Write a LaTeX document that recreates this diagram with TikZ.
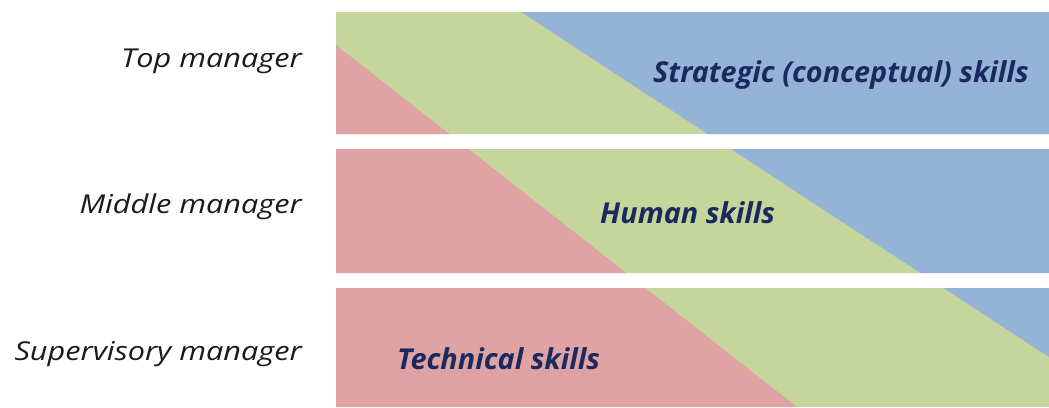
\documentclass[tikz,border=0pt]{standalone}
\usepackage{fontspec}
\setmainfont{Open Sans}
\newfontfamily\mgrfont[FakeStretch=1.18]{Open Sans}
\definecolor{bandred}{HTML}{DFA3A3}
\definecolor{bandgreen}{HTML}{C4D69B}
\definecolor{bandblue}{HTML}{95B3D7}
\definecolor{skillnavy}{HTML}{1B2A5E}
\definecolor{mgrtext}{HTML}{1A1A1A}
\tikzset{
  mgrlabel/.style={anchor=base east, inner sep=0pt, text=mgrtext,
    font=\mgrfont\fontsize{26}{31}\selectfont\itshape},
  skilllabel/.style={anchor=base west, inner sep=0pt, text=skillnavy,
    font=\fontsize{28.8}{34}\selectfont\bfseries\itshape},
}
\begin{document}
\begin{tikzpicture}[x=1pt,y=-1pt]
\useasboundingbox (0,0) rectangle (1049,407);
\begin{scope}
  \clip (336,12) rectangle (1049,134)
        (336,149) rectangle (1049,273)
        (336,288) rectangle (1049,407);
  \fill[bandgreen] (336,12) rectangle (1049,407);
  \fill[bandred] (336,45) -- (797,407) -- (336,407) -- cycle;
  \fill[bandblue] (521,12) -- (1049,357) -- (1049,12) -- cycle;
\end{scope}
\node[mgrlabel] (top) at (302,67) {Top manager};
\node[mgrlabel] (mid) at (302,213) {Middle manager};
\node[mgrlabel] (sup) at (302,360) {Supervisory manager};
\node[skilllabel] (strat) at (653,82) {Strategic (conceptual) skills};
\node[skilllabel] (human) at (600,223) {Human skills};
\node[skilllabel] (tech) at (397,369) {Technical skills};
\end{tikzpicture}
\end{document}
